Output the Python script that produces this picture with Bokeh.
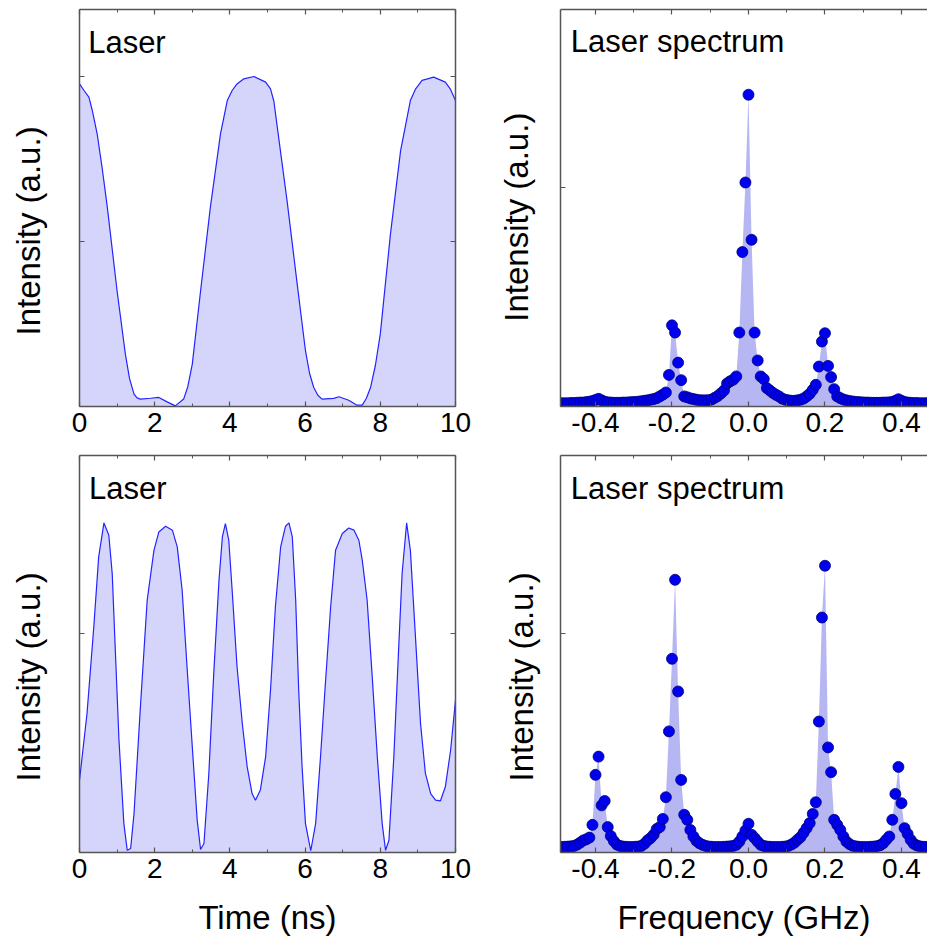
import numpy as np
from bokeh.plotting import figure
from bokeh.layouts import column, row
from bokeh.models import FixedTicker, LinearAxis, Label, Range1d, PrintfTickFormatter
from bokeh.embed import file_html
from bokeh.resources import INLINE

# ---------------- data ----------------
# Top-left: laser intensity vs time (ns), arbitrary units
t_top = [0, 0.12, 0.25, 0.34, 0.47, 0.6, 0.74, 1.0, 1.22, 1.33, 1.45, 1.53, 1.62, 1.89, 2.11,
         2.33, 2.55, 2.77, 2.88, 3.0, 3.22, 3.48, 3.75, 3.93, 4.06, 4.19, 4.37, 4.64, 4.95,
         5.08, 5.17, 5.26, 5.52, 5.79, 6.01, 6.12, 6.23, 6.34, 6.45, 6.76, 6.9, 7.16, 7.38,
         7.52, 7.63, 7.74, 7.87, 8.0, 8.27, 8.54, 8.8, 8.94, 9.11, 9.42, 9.73, 9.86, 10]
i_top = [1.955, 1.915, 1.875, 1.794, 1.652, 1.45, 1.207, 0.70, 0.317, 0.17, 0.075, 0.052,
         0.045, 0.05, 0.055, 0.028, 0.004, 0.045, 0.12, 0.257, 0.70, 1.207, 1.652, 1.854,
         1.915, 1.955, 1.986, 2.0, 1.966, 1.925, 1.85, 1.693, 1.248, 0.742, 0.338, 0.2,
         0.115, 0.068, 0.045, 0.049, 0.059, 0.038, 0.008, 0.008, 0.05, 0.115, 0.25, 0.44,
         1.045, 1.551, 1.854, 1.925, 1.976, 1.996, 1.966, 1.925, 1.854]

# Bottom-left: laser intensity vs time (ns)
t_bot = [0, 0.2, 0.38, 0.51, 0.65, 0.78, 0.87, 0.96, 1.05, 1.18, 1.27, 1.36, 1.45, 1.62,
         1.8, 1.98, 2.11, 2.29, 2.47, 2.6, 2.73, 2.86, 3.0, 3.13, 3.22, 3.31, 3.44, 3.57,
         3.71, 3.8, 3.88, 3.97, 4.06, 4.19, 4.33, 4.46, 4.59, 4.68, 4.81, 4.95, 5.08, 5.21,
         5.35, 5.48, 5.57, 5.66, 5.75, 5.83, 5.92, 6.01, 6.15, 6.28, 6.41, 6.54, 6.68, 6.81,
         6.99, 7.16, 7.3, 7.43, 7.52, 7.65, 7.78, 7.92, 8.05, 8.14, 8.23, 8.36, 8.49, 8.58,
         8.7, 8.8, 8.94, 9.07, 9.2, 9.34, 9.47, 9.6, 9.73, 9.87, 10]
i_bot = [0.33, 0.635, 1.03, 1.35, 1.505, 1.449, 1.274, 0.893, 0.513, 0.132, 0.01, 0.018,
         0.178, 0.665, 1.152, 1.38, 1.464, 1.49, 1.472, 1.396, 1.198, 0.848, 0.482, 0.148,
         0.014, 0.041, 0.361, 0.817, 1.244, 1.441, 1.502, 1.426, 1.198, 0.848, 0.589, 0.391,
         0.269, 0.239, 0.285, 0.437, 0.741, 1.122, 1.396, 1.49, 1.505, 1.441, 1.152, 0.741,
         0.391, 0.132, 0.008, 0.132, 0.437, 0.772, 1.122, 1.38, 1.457, 1.482, 1.472, 1.426,
         1.335, 1.152, 0.817, 0.437, 0.132, 0.01, 0.056, 0.437, 0.939, 1.274, 1.505, 1.38,
         0.97, 0.589, 0.361, 0.269, 0.239, 0.236, 0.3, 0.467, 0.696]

# Spectra: frequency bins (GHz), 0.008 GHz spacing
freq = np.round(np.arange(-62, 63) * 0.008, 3)

spec_top = [0.015, 0.015, 0.015, 0.015, 0.016, 0.016, 0.017, 0.018, 0.018, 0.02,   # -62..-53
            0.022, 0.025, 0.03, 0.035, 0.028, 0.022, 0.019, 0.018, 0.017, 0.017,     # -52..-43
            0.017, 0.018, 0.018, 0.019, 0.02, 0.021, 0.022, 0.024, 0.026, 0.028,     # -42..-33
            0.031, 0.034, 0.038, 0.046, 0.054, 0.064, 0.144, 0.37, 0.337, 0.2,       # -32..-23
            0.12, 0.046, 0.042, 0.037, 0.034, 0.031, 0.029, 0.028, 0.028, 0.029,     # -22..-13
            0.032, 0.04, 0.048, 0.06, 0.073, 0.105, 0.115, 0.122, 0.137, 0.337,      # -12..-3
            0.704, 1.021, 1.421, 0.76, 0.337, 0.21, 0.137, 0.125, 0.084, 0.073,      # -2..7
            0.062, 0.053, 0.046, 0.036, 0.031, 0.028, 0.026, 0.026, 0.028, 0.031,    # 8..17
            0.036, 0.046, 0.058, 0.076, 0.099, 0.182, 0.296, 0.334, 0.185, 0.134,    # 18..27
            0.079, 0.046, 0.038, 0.032, 0.028, 0.025, 0.023, 0.021, 0.02, 0.019,     # 28..37
            0.018, 0.018, 0.017, 0.017, 0.017, 0.017, 0.018, 0.018, 0.019, 0.021,    # 38..47
            0.026, 0.033, 0.026, 0.021, 0.018, 0.017, 0.016, 0.016, 0.015, 0.015,    # 48..57
            0.015, 0.015, 0.015, 0.015, 0.015]                                       # 58..62

spec_bot = [0.025, 0.025, 0.026, 0.027, 0.028, 0.03, 0.036, 0.045, 0.055, 0.06,      # -62..-53
            0.068, 0.126, 0.354, 0.437, 0.215, 0.235, 0.116, 0.075, 0.052, 0.036,    # -52..-43
            0.03, 0.027, 0.026, 0.025, 0.025, 0.026, 0.027, 0.03, 0.04, 0.055,       # -42..-33
            0.066, 0.081, 0.107, 0.116, 0.153, 0.252, 0.552, 0.883, 1.243, 0.734,    # -32..-23
            0.331, 0.172, 0.149, 0.103, 0.073, 0.053, 0.042, 0.035, 0.03, 0.027,     # -22..-13
            0.026, 0.025, 0.025, 0.025, 0.026, 0.027, 0.028, 0.03, 0.035, 0.05,      # -12..-3
            0.073, 0.1, 0.131, 0.081, 0.066, 0.05, 0.035, 0.03, 0.027, 0.026,        # -2..7
            0.025, 0.025, 0.025, 0.026, 0.027, 0.03, 0.036, 0.045, 0.058, 0.07,      # 8..17
            0.09, 0.111, 0.134, 0.176, 0.229, 0.597, 1.071, 1.307, 0.479, 0.366,     # 18..27
            0.149, 0.126, 0.103, 0.073, 0.05, 0.038, 0.031, 0.028, 0.026, 0.025,     # 28..37
            0.025, 0.025, 0.026, 0.027, 0.029, 0.033, 0.042, 0.058, 0.073, 0.149,    # 38..47
            0.267, 0.39, 0.225, 0.111, 0.085, 0.058, 0.04, 0.032, 0.028, 0.026,      # 48..57
            0.025, 0.025, 0.025, 0.025, 0.025]                                       # 58..62

time_ticks = [0, 2, 4, 6, 8, 10]
time_minor = [1, 3, 5, 7, 9]
freq_ticks = [-0.4, -0.2, 0.0, 0.2, 0.4]
freq_minor = [-0.5, -0.3, -0.1, 0.1, 0.3, 0.5]

Y_LABEL = "Intensity (a.u.)"
NB = "\u00a0"

# ---------------- style ----------------
FONT = "Liberation Sans"
FRAME = "#555555"
LINE_BLUE = "#2323ff"
TIME_FILL = "#d5d5fc"
SPEC_FILL = "#b6b6f3"
DOT_FILL = "#0000f0"
DOT_EDGE = "#00007a"


def style_axis(ax, ticks, minor, labels, fmt=None, show_minor=True):
    ax.ticker = FixedTicker(ticks=ticks, minor_ticks=minor if show_minor else [])
    ax.axis_line_color = FRAME
    ax.axis_line_width = 1.5
    ax.major_tick_line_color = FRAME
    ax.major_tick_line_width = 1.2
    ax.major_tick_in = 5
    ax.major_tick_out = 0
    ax.minor_tick_line_color = FRAME if show_minor else None
    ax.minor_tick_in = 3
    ax.minor_tick_out = 0
    ax.axis_label = None
    if labels:
        ax.major_label_text_font = FONT
        ax.major_label_text_font_size = "28px"
        ax.major_label_text_color = "black"
        ax.major_label_standoff = 6
        if fmt is not None:
            ax.formatter = fmt
    else:
        ax.major_label_text_font_size = "1px"
        ax.major_label_text_color = None
        ax.major_label_standoff = 0


def set_axis_label(ax, text, standoff):
    ax.axis_label = text
    ax.axis_label_text_font = FONT
    ax.axis_label_text_font_size = "33px"
    ax.axis_label_text_font_style = "normal"
    ax.axis_label_text_color = "black"
    ax.axis_label_standoff = standoff


def make_fig(width, height, bl, br, bt, bb, xr, yr, xticks, xminor, yticks, fmt, right_axis):
    p = figure(width=width, height=height, x_range=Range1d(*xr), y_range=Range1d(*yr),
               output_backend="svg", toolbar_location=None,
               min_border_left=bl, min_border_right=br, min_border_top=bt, min_border_bottom=bb)
    p.xgrid.visible = False
    p.ygrid.visible = False
    p.outline_line_color = None
    p.background_fill_color = "white"
    p.border_fill_color = "white"
    bottom_ax = p.below[0]
    left_ax = p.left[0]
    style_axis(bottom_ax, xticks, xminor, True, fmt)
    style_axis(left_ax, yticks, [], False, show_minor=False)
    top = LinearAxis()
    style_axis(top, xticks, xminor, False)
    p.add_layout(top, "above")
    if right_axis:
        r = LinearAxis()
        style_axis(r, yticks, [], False, show_minor=False)
        p.add_layout(r, "right")
    return p, bottom_ax, left_ax


def add_title(p, x, y, text):
    p.add_layout(Label(x=x, y=y, text=text, text_font=FONT, text_font_size="31px",
                       text_color="black", text_align="left", text_baseline="alphabetic"))


# ---------------- panels ----------------
p1, p1_x, p1_y = make_fig(475, 445, 79, 20, 9, 39, (0, 10), (0, 2.406), time_ticks, time_minor,
                          [0, 1, 2], None, True)
p1.varea(x=t_top, y1=0, y2=i_top, fill_color=TIME_FILL)
p1.line(x=t_top, y=i_top, line_color=LINE_BLUE, line_width=1.2)
add_title(p1, 0.23, 2.206, "Laser")
set_axis_label(p1_y, Y_LABEL + NB * 5, 33)

p2, p2_x, p2_y = make_fig(452, 445, 85, 0, 9, 39, (-0.4915, 0.468), (0, 1.8095), freq_ticks,
                          freq_minor, [0, 1], PrintfTickFormatter(format="%.1f"), False)
p2.varea(x=freq, y1=0, y2=spec_top, fill_color=SPEC_FILL)
p2.scatter(x=freq, y=spec_top, size=11, fill_color=DOT_FILL, line_color=DOT_EDGE, line_width=0.8)
add_title(p2, -0.4646, 1.662, "Laser spectrum")
set_axis_label(p2_y, Y_LABEL + NB * 2, 26)

p3, p3_x, p3_y = make_fig(475, 494, 79, 20, 10, 87, (0, 10), (0, 1.813), time_ticks, time_minor,
                          [0, 1], None, True)
p3.varea(x=t_bot, y1=0, y2=i_bot, fill_color=TIME_FILL)
p3.line(x=t_bot, y=i_bot, line_color=LINE_BLUE, line_width=1.2)
add_title(p3, 0.255, 1.663, "Laser")
set_axis_label(p3_y, Y_LABEL + NB * 5, 33)
set_axis_label(p3_x, "Time (ns)", 18)

p4, p4_x, p4_y = make_fig(452, 494, 85, 0, 10, 87, (-0.4915, 0.468), (0, 1.8095), freq_ticks,
                          freq_minor, [0, 1], PrintfTickFormatter(format="%.1f"), False)
p4.varea(x=freq, y1=0, y2=spec_bot, fill_color=SPEC_FILL)
p4.scatter(x=freq, y=spec_bot, size=11, fill_color=DOT_FILL, line_color=DOT_EDGE, line_width=0.8)
add_title(p4, -0.4646, 1.658, "Laser spectrum")
set_axis_label(p4_y, Y_LABEL + NB * 5, 21)
set_axis_label(p4_x, "Frequency (GHz)", 18)

layout = column(row(p1, p2), row(p3, p4))

open("out.html", "w").write(file_html(layout, INLINE))
